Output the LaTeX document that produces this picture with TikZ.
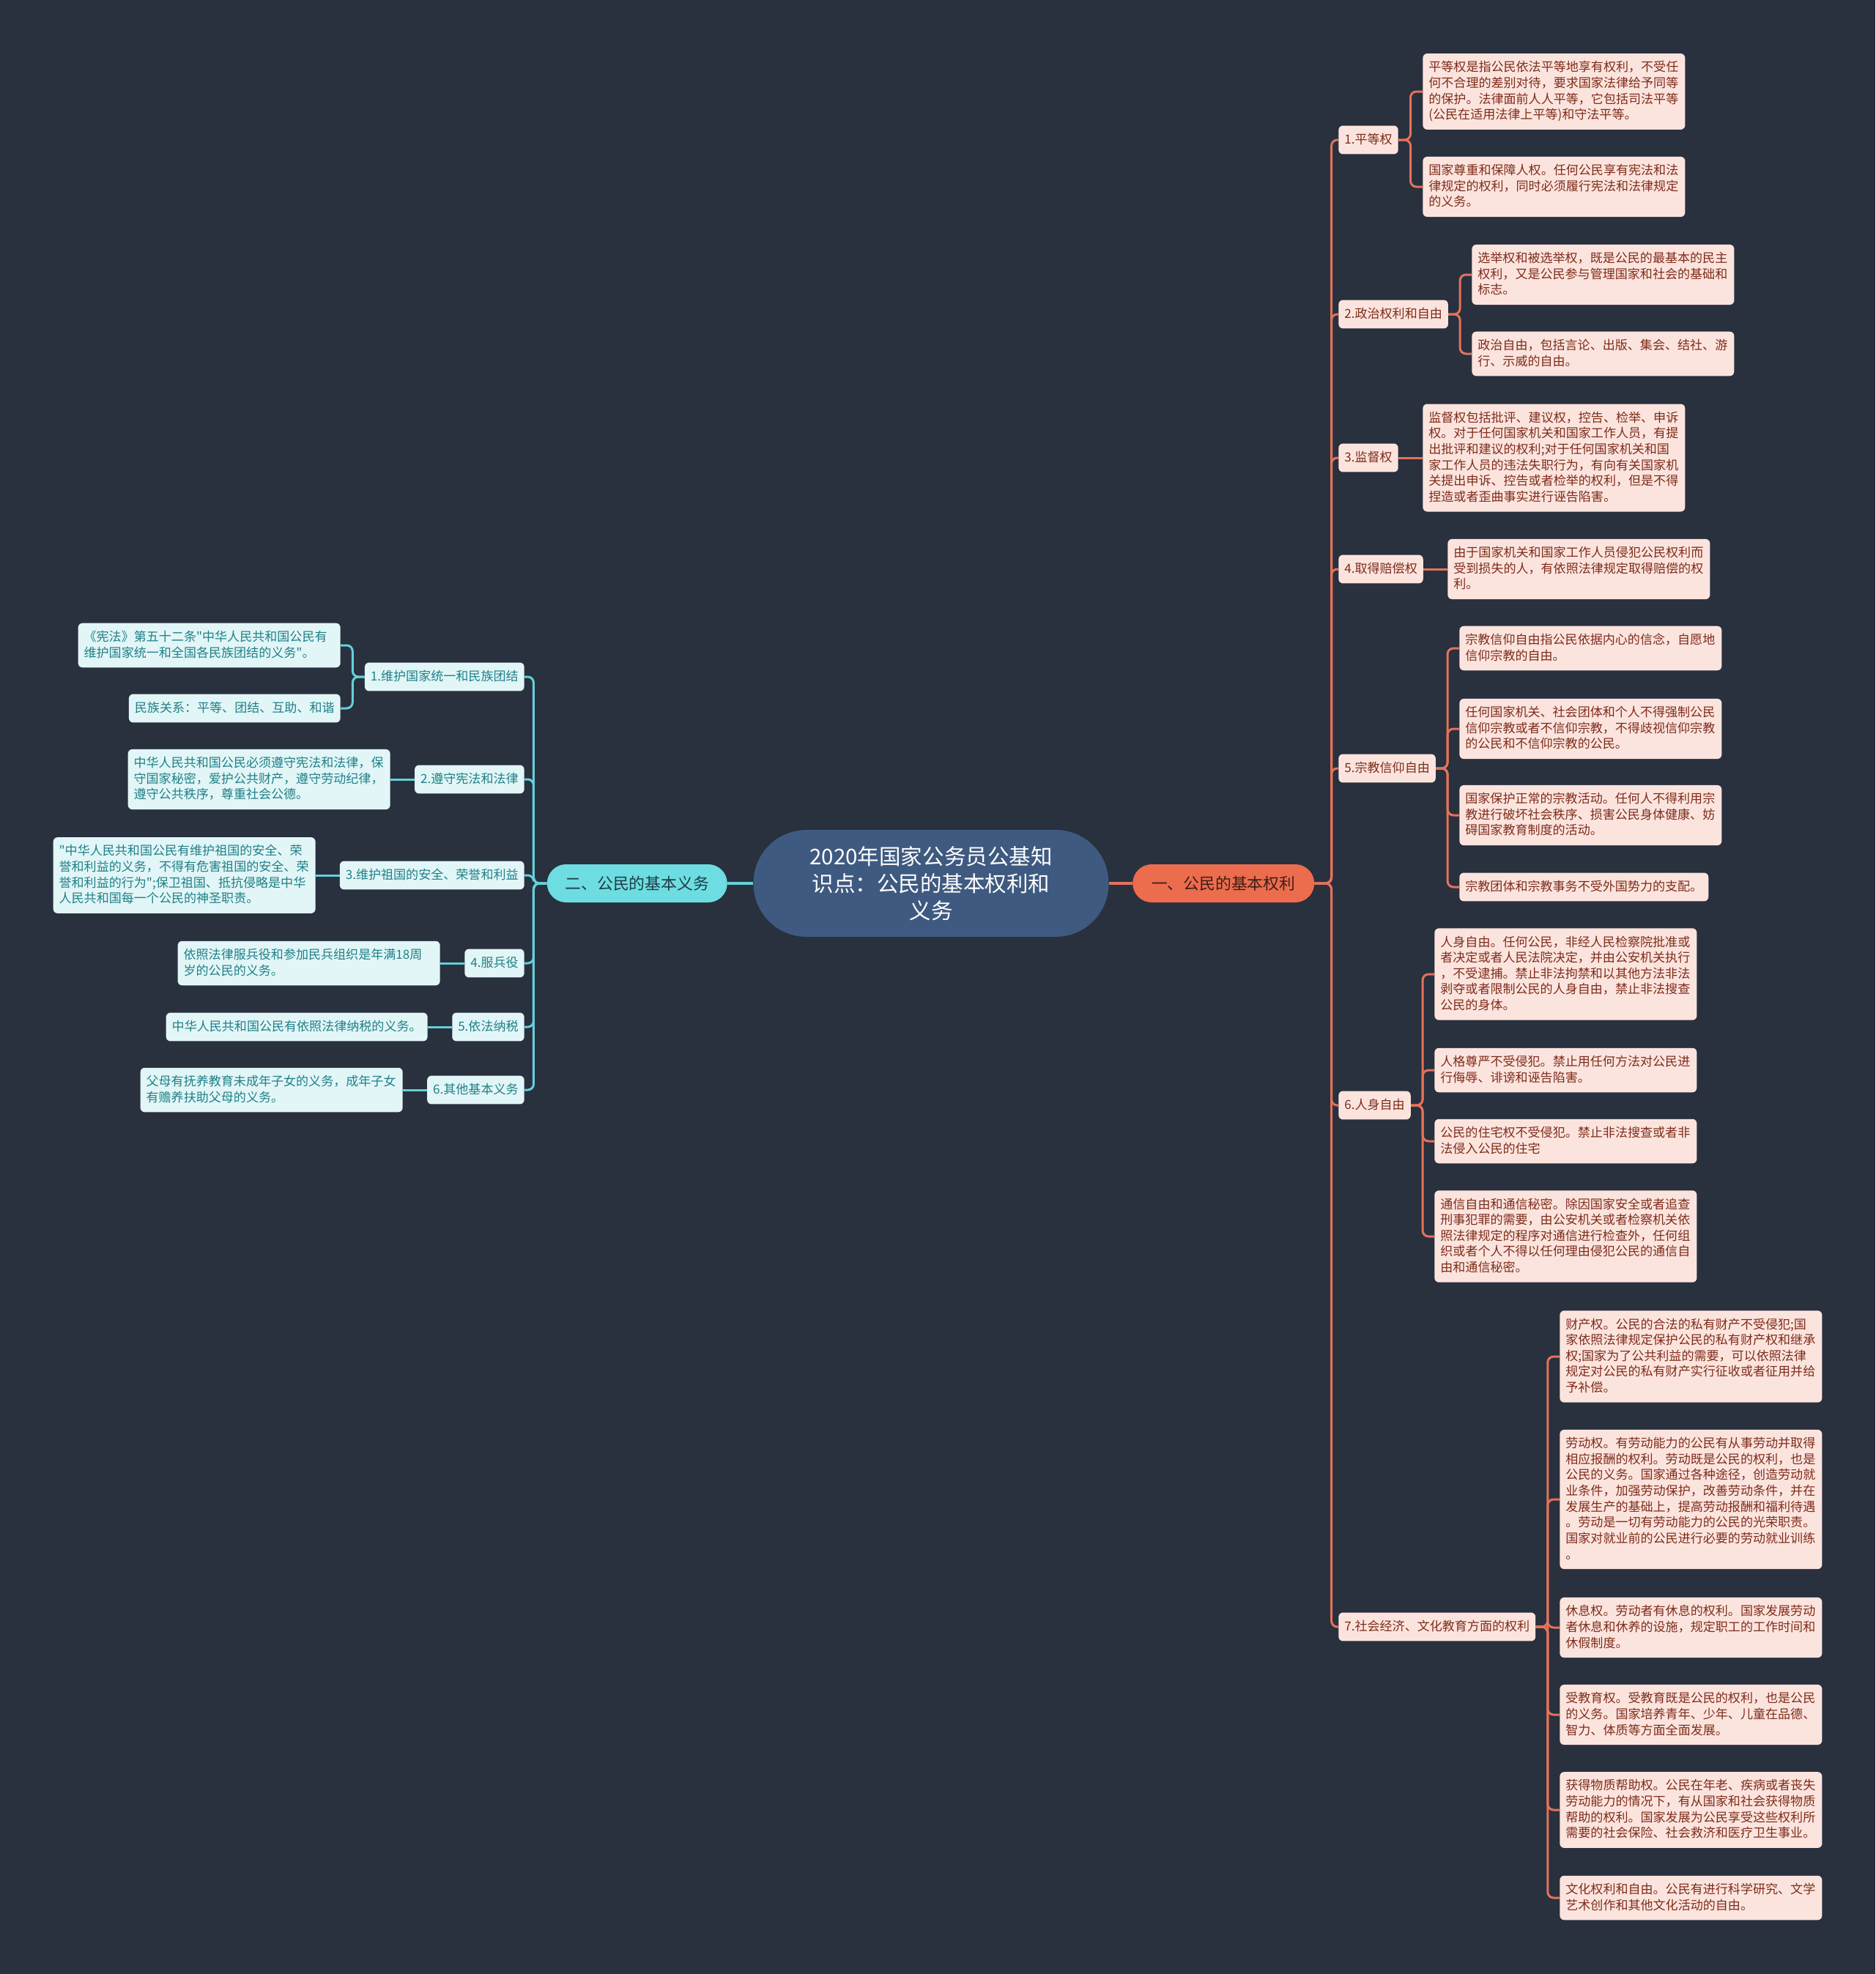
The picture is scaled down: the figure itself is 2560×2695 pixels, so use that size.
\documentclass[tikz,border=0pt]{standalone}
\usepackage{fontspec}
\setmainfont{Noto Sans CJK SC}
\newfontfamily\cjkfont{Noto Sans CJK SC}
\usepackage{tikz}
\usetikzlibrary{positioning,calc}
\definecolor{bgdark}{HTML}{29303E}
\definecolor{hub}{HTML}{3E5A80}
\definecolor{coral}{HTML}{EC6C4E}
\definecolor{coralline}{HTML}{E4725A}
\definecolor{rosefill}{HTML}{FCE4DE}
\definecolor{rosetext}{HTML}{7E2C1A}
\definecolor{coraltext}{HTML}{3E1E16}
\definecolor{aqua}{HTML}{6DDDE2}
\definecolor{aqualine}{HTML}{62D1D9}
\definecolor{icefill}{HTML}{E2F6F7}
\definecolor{icetext}{HTML}{1F8088}
\definecolor{aquatext}{HTML}{1E3C44}
\tikzset{
  cardbase/.style={rounded corners=1.2mm,inner xsep=1.6mm,inner ysep=1.73mm,
    font=\cjkfont\fontsize{9.7}{12.3}\selectfont,align=left,
    execute at begin node={\rule{0pt}{9.2pt}},
    execute at end node={\rule[-3.1pt]{0pt}{3.1pt}}},
  subR/.style={cardbase,fill=rosefill,text=rosetext},
  leafR/.style={subR,text width=68.4mm},
  subL/.style={cardbase,fill=icefill,text=icetext},
  leafL/.style={subL,text width=68.4mm},
  centre/.style={fill=hub,text=white,align=center,rounded corners=14.5mm,
    minimum width=97mm,minimum height=29.2mm,font=\cjkfont\fontsize{16.8}{21}\selectfont},
  mainR/.style={fill=coral,text=coraltext,rounded corners=5.2mm,
    minimum width=49.6mm,minimum height=10.4mm,font=\cjkfont\fontsize{12.4}{15}\selectfont},
  mainL/.style={fill=aqua,text=aquatext,rounded corners=5.2mm,
    minimum width=49.2mm,minimum height=10.4mm,font=\cjkfont\fontsize{12.4}{15}\selectfont},
  linkR/.style={draw=coralline,line width=0.6mm,rounded corners=1.6mm},
  linkL/.style={draw=aqualine,line width=0.6mm,rounded corners=1.6mm}
}
\begin{document}
\begin{tikzpicture}[x=0.2mm,y=-0.2mm]
\fill[bgdark] (0,0) rectangle (2560,2695);
% centre and the two main branches
\node[centre] (c) at (1271,1206) {2020年国家公务员公基知\\识点：公民的基本权利和\\义务};
\node[mainR,right=6.4mm of c] (rt) {一、公民的基本权利};
\node[mainL,left=7mm of c] (lt) {二、公民的基本义务};
\draw[linkR,line width=0.9mm] (c) -- (rt);
\draw[linkL,line width=0.9mm] (c) -- (lt);

% rights
\node[subR,anchor=west] (r1) at (1827,191) {1.平等权};
\node[subR,anchor=west] (r2) at (1827,429) {2.政治权利和自由};
\node[subR,anchor=west] (r3) at (1827,625) {3.监督权};
\node[subR,anchor=west] (r4) at (1827,777) {4.取得赔偿权};
\node[subR,anchor=west] (r5) at (1827,1049) {5.宗教信仰自由};
\node[subR,anchor=west] (r6) at (1827,1509) {6.人身自由};
\node[subR,anchor=west] (r7) at (1827,2221) {7.社会经济、文化教育方面的权利};

\node[leafR,anchor=west] (r1a) at (1942,125) {平等权是指公民依法平等地享有权利，不受任\\何不合理的差别对待，要求国家法律给予同等\\的保护。法律面前人人平等，它包括司法平等\\(公民在适用法律上平等)和守法平等。};
\node[leafR,anchor=west] (r1b) at (1942,255) {国家尊重和保障人权。任何公民享有宪法和法\\律规定的权利，同时必须履行宪法和法律规定\\的义务。};
\node[leafR,anchor=west] (r2a) at (2009,375) {选举权和被选举权，既是公民的最基本的民主\\权利，又是公民参与管理国家和社会的基础和\\标志。};
\node[leafR,anchor=west] (r2b) at (2009,483) {政治自由，包括言论、出版、集会、结社、游\\行、示威的自由。};
\node[leafR,anchor=west] (r3a) at (1942,625) {监督权包括批评、建议权，控告、检举、申诉\\权。对于任何国家机关和国家工作人员，有提\\出批评和建议的权利;对于任何国家机关和国\\家工作人员的违法失职行为，有向有关国家机\\关提出申诉、控告或者检举的权利，但是不得\\捏造或者歪曲事实进行诬告陷害。};
\node[leafR,anchor=west] (r4a) at (1976,777) {由于国家机关和国家工作人员侵犯公民权利而\\受到损失的人，有依照法律规定取得赔偿的权\\利。};
\node[leafR,anchor=west] (r5a) at (1992,885) {宗教信仰自由指公民依据内心的信念，自愿地\\信仰宗教的自由。};
\node[leafR,anchor=west] (r5b) at (1992,995) {任何国家机关、社会团体和个人不得强制公民\\信仰宗教或者不信仰宗教，不得歧视信仰宗教\\的公民和不信仰宗教的公民。};
\node[leafR,anchor=west] (r5c) at (1992,1113) {国家保护正常的宗教活动。任何人不得利用宗\\教进行破坏社会秩序、损害公民身体健康、妨\\碍国家教育制度的活动。};
\node[subR,anchor=west] (r5d) at (1992,1211) {宗教团体和宗教事务不受外国势力的支配。};
\node[leafR,anchor=west] (r6a) at (1958,1330) {人身自由。任何公民，非经人民检察院批准或\\者决定或者人民法院决定，并由公安机关执行\\，不受逮捕。禁止非法拘禁和以其他方法非法\\剥夺或者限制公民的人身自由，禁止非法搜查\\公民的身体。};
\node[leafR,anchor=west] (r6b) at (1958,1461) {人格尊严不受侵犯。禁止用任何方法对公民进\\行侮辱、诽谤和诬告陷害。};
\node[leafR,anchor=west] (r6c) at (1958,1558) {公民的住宅权不受侵犯。禁止非法搜查或者非\\法侵入公民的住宅};
\node[leafR,anchor=west] (r6d) at (1958,1688) {通信自由和通信秘密。除因国家安全或者追查\\刑事犯罪的需要，由公安机关或者检察机关依\\照法律规定的程序对通信进行检查外，任何组\\织或者个人不得以任何理由侵犯公民的通信自\\由和通信秘密。};
\node[leafR,anchor=west] (r7a) at (2129,1852) {财产权。公民的合法的私有财产不受侵犯;国\\家依照法律规定保护公民的私有财产权和继承\\权;国家为了公共利益的需要，可以依照法律\\规定对公民的私有财产实行征收或者征用并给\\予补偿。};
\node[leafR,anchor=west] (r7b) at (2129,2047) {劳动权。有劳动能力的公民有从事劳动并取得\\相应报酬的权利。劳动既是公民的权利，也是\\公民的义务。国家通过各种途径，创造劳动就\\业条件，加强劳动保护，改善劳动条件，并在\\发展生产的基础上，提高劳动报酬和福利待遇\\。劳动是一切有劳动能力的公民的光荣职责。\\国家对就业前的公民进行必要的劳动就业训练\\。};
\node[leafR,anchor=west] (r7c) at (2129,2222) {休息权。劳动者有休息的权利。国家发展劳动\\者休息和休养的设施，规定职工的工作时间和\\休假制度。};
\node[leafR,anchor=west] (r7d) at (2129,2341) {受教育权。受教育既是公民的权利，也是公民\\的义务。国家培养青年、少年、儿童在品德、\\智力、体质等方面全面发展。};
\node[leafR,anchor=west] (r7e) at (2129,2471) {获得物质帮助权。公民在年老、疾病或者丧失\\劳动能力的情况下，有从国家和社会获得物质\\帮助的权利。国家发展为公民享受这些权利所\\需要的社会保险、社会救济和医疗卫生事业。};
\node[leafR,anchor=west] (r7f) at (2129,2591) {文化权利和自由。公民有进行科学研究、文学\\艺术创作和其他文化活动的自由。};

\foreach \n in {r1,r2,r3,r4,r5,r6,r7}
  \draw[linkR] (rt.east) -- ++(23,0) |- (\n.west);
\foreach \src/\dst in {r1/r1a,r1/r1b,r2/r2a,r2/r2b,r5/r5a,r5/r5b,r5/r5c,r5/r5d,
    r6/r6a,r6/r6b,r6/r6c,r6/r6d,r7/r7a,r7/r7b,r7/r7c,r7/r7d,r7/r7e,r7/r7f}
  \draw[linkR] (\src.east) -- ($(\src.east)!.5!(\dst.west |- \src.east)$) |- (\dst.west);
\foreach \src/\dst in {r3/r3a,r4/r4a}
  \draw[linkR] (\src.east) -- (\dst.west);

% duties
\node[subL,anchor=east] (l1) at (716,924) {1.维护国家统一和民族团结};
\node[subL,anchor=east] (l2) at (716,1064) {2.遵守宪法和法律};
\node[subL,anchor=east] (l3) at (716,1195) {3.维护祖国的安全、荣誉和利益};
\node[subL,anchor=east] (l4) at (716,1315) {4.服兵役};
\node[subL,anchor=east] (l5) at (716,1402) {5.依法纳税};
\node[subL,anchor=east] (l6) at (716,1488) {6.其他基本义务};

\node[leafL,anchor=east] (l1a) at (465,881) {《宪法》第五十二条"中华人民共和国公民有\\维护国家统一和全国各民族团结的义务"。};
\node[subL,anchor=east] (l1b) at (465,967) {民族关系：平等、团结、互助、和谐};
\node[leafL,anchor=east] (l2a) at (533,1064) {中华人民共和国公民必须遵守宪法和法律，保\\守国家秘密，爱护公共财产，遵守劳动纪律，\\遵守公共秩序，尊重社会公德。};
\node[leafL,anchor=east] (l3a) at (431,1195) {"中华人民共和国公民有维护祖国的安全、荣\\誉和利益的义务，不得有危害祖国的安全、荣\\誉和利益的行为";保卫祖国、抵抗侵略是中华\\人民共和国每一个公民的神圣职责。};
\node[leafL,anchor=east] (l4a) at (601,1315) {依照法律服兵役和参加民兵组织是年满18周\\岁的公民的义务。};
\node[subL,anchor=east] (l5a) at (584,1402) {中华人民共和国公民有依照法律纳税的义务。};
\node[leafL,anchor=east] (l6a) at (550,1488) {父母有抚养教育未成年子女的义务，成年子女\\有赡养扶助父母的义务。};

\foreach \n in {l1,l2,l3,l4,l5,l6}
  \draw[linkL] (lt.west) -- ++(-18,0) |- (\n.east);
\foreach \src/\dst in {l1/l1a,l1/l1b}
  \draw[linkL] (\src.west) -- ($(\src.west)!.5!(\dst.east |- \src.west)$) |- (\dst.east);
\foreach \src/\dst in {l2/l2a,l3/l3a,l4/l4a,l5/l5a,l6/l6a}
  \draw[linkL] (\src.west) -- (\dst.east);
\end{tikzpicture}
\end{document}
